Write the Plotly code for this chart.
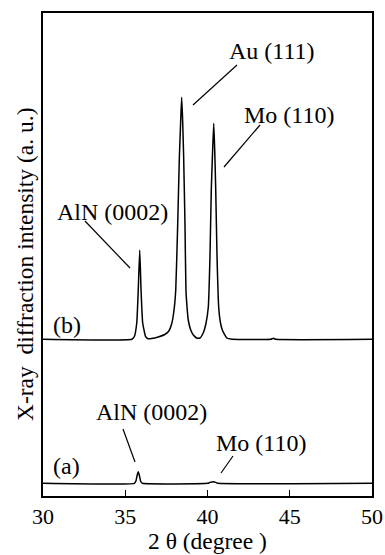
import plotly.graph_objects as go

# ---- data ----
two_theta_b = [30.0, 35.40, 35.55, 35.70, 35.79, 35.88, 35.96, 36.06, 36.24, 36.38,
               36.60, 37.00, 37.40, 37.65, 37.82, 37.95, 38.07, 38.19, 38.29, 38.37, 38.43,
               38.49, 38.55, 38.63, 38.69, 38.76, 38.83, 38.98, 39.14, 39.34, 39.54, 39.74,
               39.90, 40.05, 40.15, 40.23, 40.31, 40.38, 40.44, 40.50, 40.58, 40.68, 40.78,
               40.90, 41.17, 41.50, 43.85, 44.00, 44.15, 50.0]
intensity_b = [156.7, 156.7, 159.3, 173, 206, 246, 206, 173, 159.3, 157.3,
               157.5, 159, 161.5, 165, 172, 184, 206, 273, 339, 375, 398.7,
               375, 339, 273, 206, 188, 176, 166, 161, 158, 158, 163,
               172, 189, 239, 306, 345, 372.7, 345, 306, 239, 189, 174,
               166, 158, 156.7, 156.7, 157.7, 156.7, 156.7]

two_theta_a = [30.0, 35.55, 35.65, 35.72, 35.79, 35.86, 35.94, 36.05, 40.02, 40.15, 40.35,
               40.50, 40.62, 50.0]
intensity_a = [12.7, 12.7, 15.0, 20.5, 24.3, 20.5, 14.5, 12.7, 12.7, 13.6, 14.3,
               13.6, 12.7, 12.7]

x_ticks = [30, 35, 40, 45, 50]
x_tick_labels = ["30", "35", "40", "45", "50"]

labels = ["Au (111)", "Mo (110)", "AlN (0002)", "(b)", "AlN (0002)", "Mo (110)", "(a)"]

# ---- layout geometry ----
W, H = 385, 555
L, R, T, B = 43, 372, 13, 496
XR = [30, 50]
YR = [0, 483]

def px2x(px):
    return XR[0] + (px - L) / (R - L) * (XR[1] - XR[0])

def py2y(py):
    return YR[0] + (B - py) / (B - T) * (YR[1] - YR[0])

def px2paper(px):
    return (px - L) / (R - L)

def py2paper(py):
    return (B - py) / (B - T)

FONT = "Liberation Serif"
FS_LAB = 24
FS_TITLE = 23.5
FS_TICK = 22

fig = go.Figure()
fig.add_trace(go.Scatter(x=two_theta_b, y=intensity_b, mode="lines",
                         line=dict(color="black", width=1.5, shape="spline", smoothing=0.4),
                         showlegend=False))
fig.add_trace(go.Scatter(x=two_theta_a, y=intensity_a, mode="lines",
                         line=dict(color="black", width=1.5, shape="spline", smoothing=0.4),
                         showlegend=False))

# text label positions (pixel centres) and leader lines (pixel endpoints)
label_pos = [(272, 51), (289, 115), (112, 212), (67, 325), (151, 412), (261, 443), (66, 466)]
leaders = [((237, 65), (193, 105)), ((260, 125), (224, 167)), ((85, 221), (130, 268)),
           ((123, 429), (135, 462)), ((233, 456), (221, 473))]

annotations = []
for text, (px, py) in zip(labels, label_pos):
    annotations.append(dict(x=px2x(px), y=py2y(py), xref="x", yref="y", text=text,
                            showarrow=False, xanchor="center", yanchor="middle",
                            font=dict(family=FONT, size=FS_LAB, color="black")))
annotations.append(dict(x=px2paper(25), y=py2paper(265), xref="paper", yref="paper",
                        text="X-ray  diffraction intensity (a. u.)", textangle=-90,
                        showarrow=False, xanchor="center", yanchor="middle",
                        font=dict(family=FONT, size=FS_TITLE, color="black")))
annotations.append(dict(x=px2paper(207.5), y=py2paper(541), xref="paper", yref="paper",
                        text="2 θ (degree )", showarrow=False, xanchor="center", yanchor="middle",
                        font=dict(family=FONT, size=FS_TITLE, color="black")))

shapes = []
for (x0, y0), (x1, y1) in leaders:
    shapes.append(dict(type="line", xref="x", yref="y", x0=px2x(x0), y0=py2y(y0),
                       x1=px2x(x1), y1=py2y(y1), line=dict(color="black", width=1.2)))

fig.update_layout(
    width=W, height=H,
    margin=dict(l=L, r=W - R, t=T, b=H - B, autoexpand=False),
    paper_bgcolor="white", plot_bgcolor="white",
    annotations=annotations, shapes=shapes,
    xaxis=dict(range=XR, tickvals=x_ticks, ticktext=x_tick_labels, ticks="inside",
               ticklen=6, tickwidth=1.2, tickcolor="black", showgrid=False, zeroline=False,
               showline=True, linecolor="black", linewidth=1.5, mirror=True, automargin=False,
               tickfont=dict(family=FONT, size=FS_TICK, color="black")),
    yaxis=dict(range=YR, showticklabels=False, ticks="", showgrid=False, zeroline=False,
               showline=True, linecolor="black", linewidth=1.5, mirror=True, automargin=False),
)

fig.write_html("out.html")
